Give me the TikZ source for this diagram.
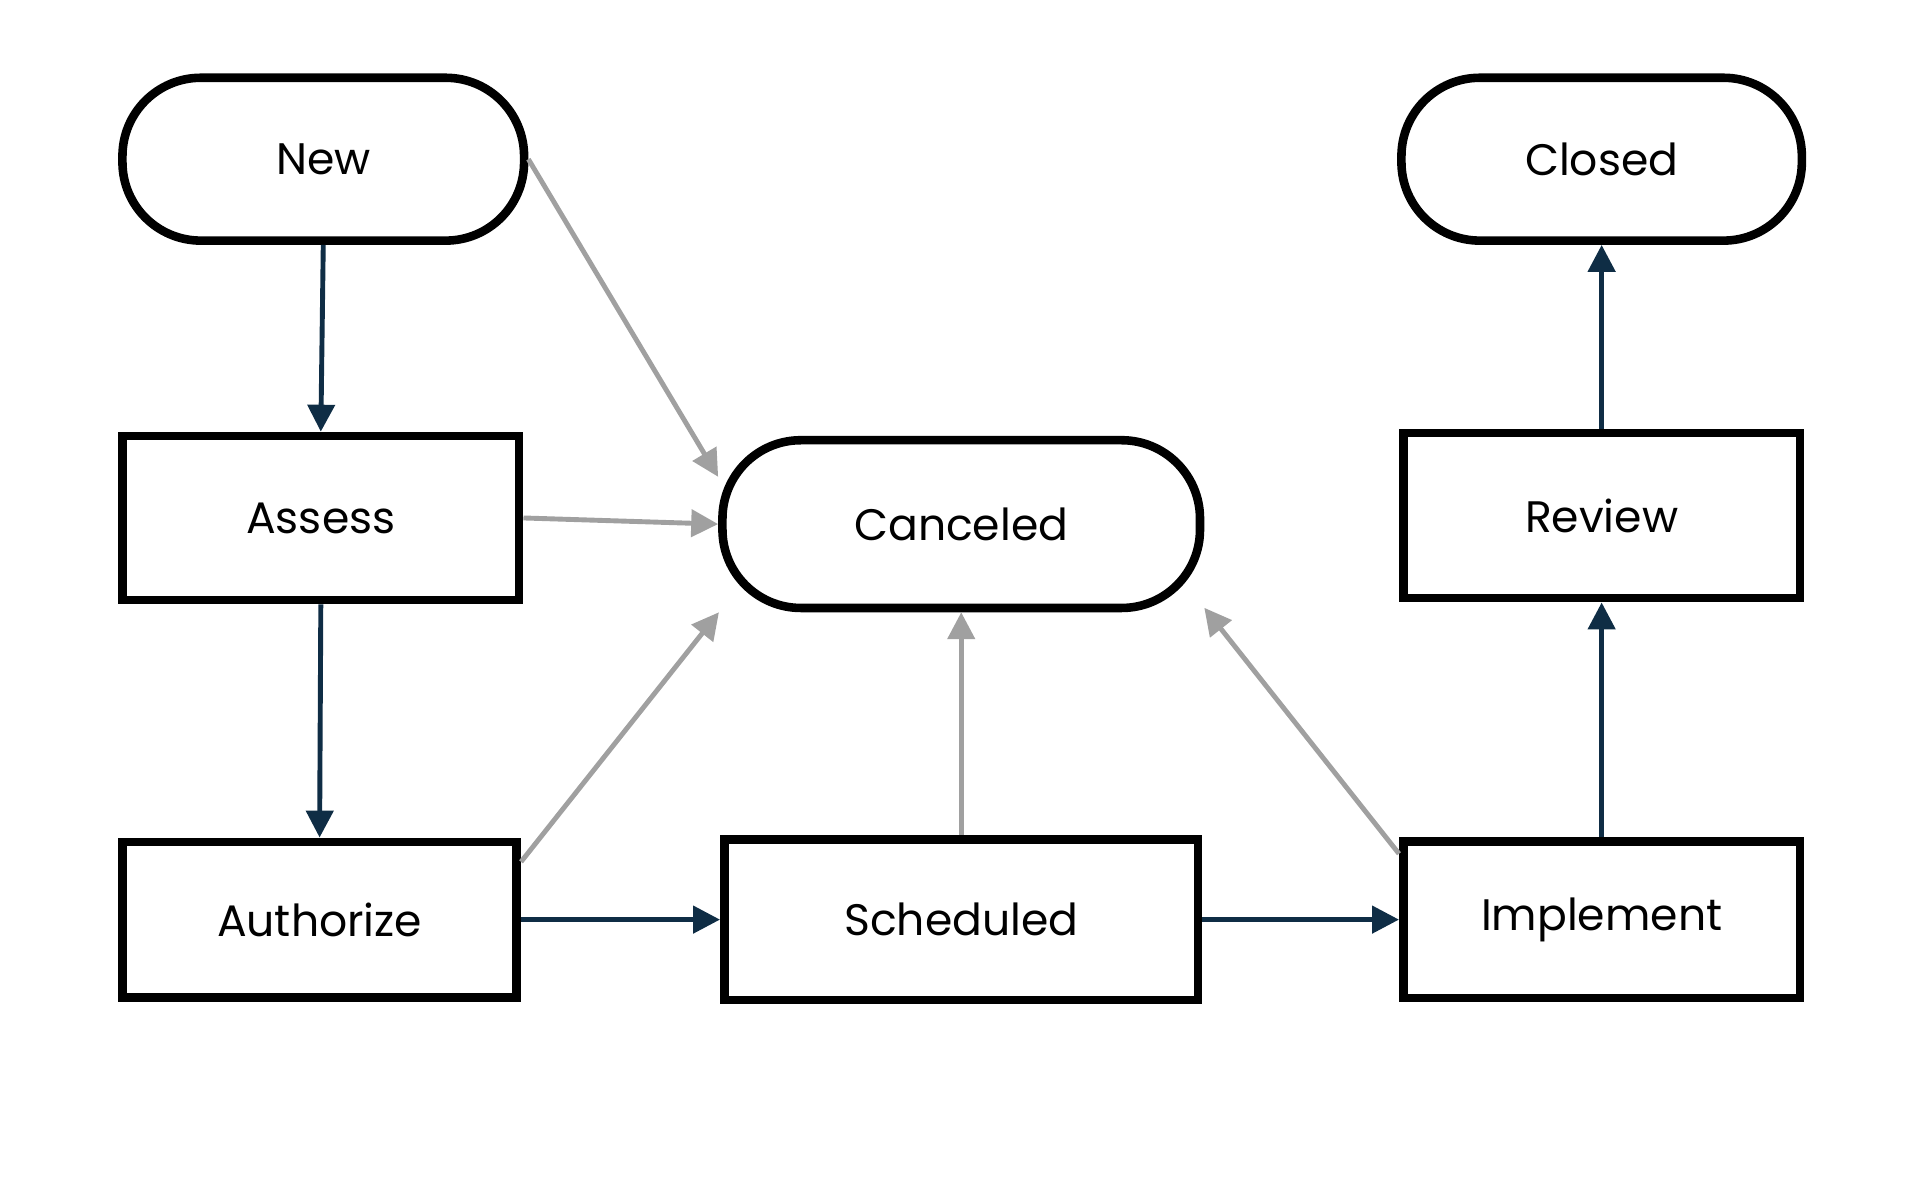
\documentclass[tikz,border=0pt]{standalone}
\usepackage{fontspec}
\setmainfont{Poppins}
\usetikzlibrary{arrows.meta}
\definecolor{dk}{HTML}{0F2D45}
\definecolor{gr}{HTML}{A0A0A0}
\tikzset{
 box/.style={draw=black,line width=7pt,minimum width=322pt,minimum height=130pt,inner sep=0pt,font=\fontsize{36}{40}\selectfont},
 pill/.style={box,rounded corners=64pt},
 dark/.style={draw=dk,line width=4pt,-{Triangle[length=22pt,width=22pt]}},
 grey/.style={draw=gr,line width=4pt,-{Triangle[length=22pt,width=22pt]}},
}
\begin{document}
\begin{tikzpicture}[x=1pt,y=-1pt]
\useasboundingbox (0,0) rectangle (1568,980);
\node[pill,minimum width=328pt,minimum height=133pt] (new) at (264,130) {New};
\node[pill,minimum width=327pt,minimum height=133pt] (closed) at (1308,130) {Closed};
\node[box,minimum width=324pt,minimum height=134pt] (assess) at (262,423) {Assess};
\node[box,minimum width=324pt,minimum height=135pt] (review) at (1308,421) {Review};
\node[pill,minimum width=390pt,minimum height=137pt] (canc) at (785,428) {Canceled};
\node[box,minimum width=322pt,minimum height=127pt] (auth) at (261,751) {Authorize};
\node[box,minimum width=387pt,minimum height=131pt] (sched) at (785,751) {Scheduled};
\node[box,minimum width=324pt,minimum height=128pt] (impl) at (1308,751) {Implement};
\draw[dark] (new.south) -- (assess.north);
\draw[dark] (assess.south) -- (auth.north);
\draw[dark] (auth.east) -- (sched.west);
\draw[dark] (sched.east) -- (impl.west);
\draw[dark] (impl.north) -- (review.south);
\draw[dark] (review.north) -- (closed.south);
\draw[grey] (new.east) -- (canc.169);
\draw[grey] (assess.east) -- (canc.west);
\draw[grey] (auth.16) -- (canc.200);
\draw[grey] (sched.north) -- (canc.south);
\draw[grey] (impl.162) -- (canc.-19);
\end{tikzpicture}
\end{document}
